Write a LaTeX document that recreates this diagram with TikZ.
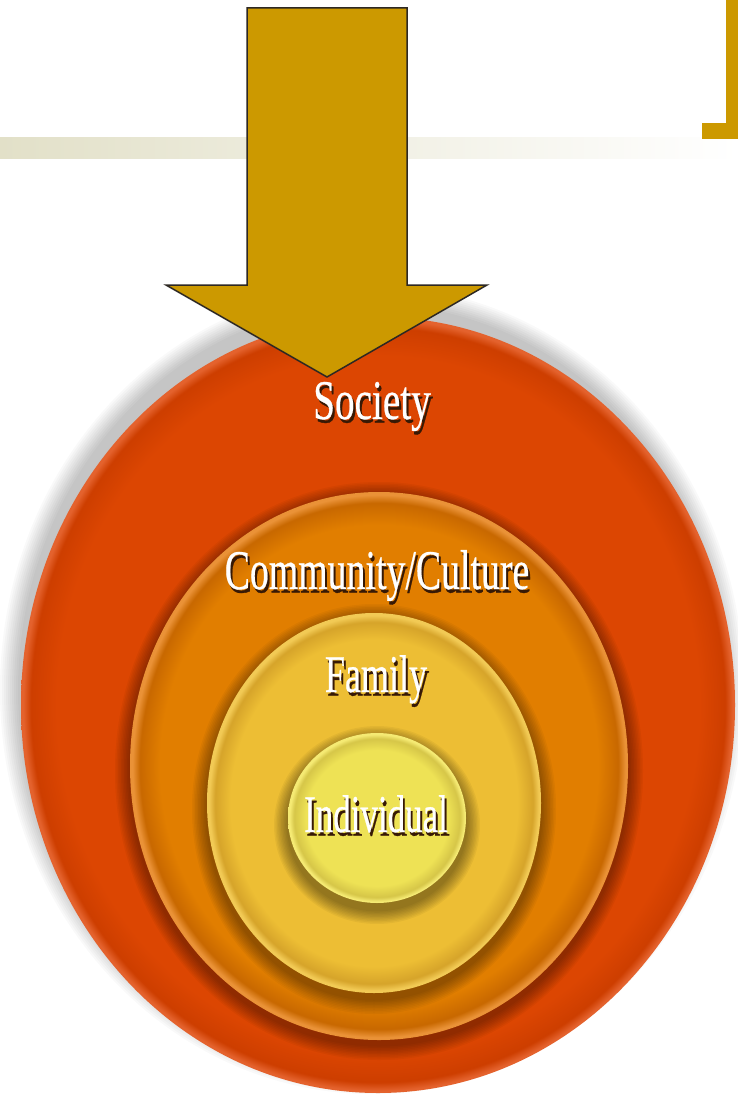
\documentclass[tikz,border=0pt]{standalone}
\usepackage{fontspec}
\usepackage{graphicx}
\setmainfont{Liberation Serif}
\newfontfamily\lblfont[FakeBold=0.6]{Liberation Serif}
\definecolor{gold}{RGB}{204,153,0}
\definecolor{goldline}{RGB}{45,40,35}
\definecolor{barL}{RGB}{226,224,200}
\definecolor{shc}{RGB}{55,25,5}
\definecolor{redb}{RGB}{220,70,2}
\definecolor{redd}{RGB}{205,62,0}
\definecolor{redl}{RGB}{228,98,45}
\definecolor{orb}{RGB}{225,126,0}
\definecolor{ord}{RGB}{200,104,0}
\definecolor{orl}{RGB}{234,146,55}
\definecolor{fab}{RGB}{237,190,52}
\definecolor{fad}{RGB}{214,164,42}
\definecolor{fal}{RGB}{242,202,85}
\definecolor{inb}{RGB}{238,226,85}
\definecolor{ind}{RGB}{214,198,72}
\definecolor{inl}{RGB}{245,234,115}
\pgfdeclareradialshading{redbevel}{\pgfpoint{0bp}{0bp}}{color(0bp)=(redb); color(22.5bp)=(redb); color(24.3bp)=(redd); color(24.85bp)=(redl); color(50bp)=(redl)}
\pgfdeclareradialshading{orbevel}{\pgfpoint{0bp}{0bp}}{color(0bp)=(orb); color(22bp)=(orb); color(24bp)=(ord); color(24.75bp)=(orl); color(50bp)=(orl)}
\pgfdeclareradialshading{fabevel}{\pgfpoint{0bp}{0bp}}{color(0bp)=(fab); color(21.5bp)=(fab); color(23.8bp)=(fad); color(24.7bp)=(fal); color(50bp)=(fal)}
\pgfdeclareradialshading{inbevel}{\pgfpoint{0bp}{0bp}}{color(0bp)=(inb); color(20bp)=(inb); color(23.3bp)=(ind); color(24.6bp)=(inl); color(50bp)=(inl)}
\newcommand\softshadow[7]{%
  \foreach \k in {1,...,10}{\fill[#5,opacity=#6] (#1,#2) ellipse [x radius={#3+#7*\k}, y radius={#4+#7*\k}];}}
\newcommand\shadowed[2]{\scalebox{#1}[1]{\rlap{\kern3pt\raisebox{-3.5pt}{\color{shc}#2}}#2}}
\tikzset{
  lbl/.style={text=white, anchor=base, inner sep=0pt},
  big/.style={font=\lblfont\fontsize{56}{60}\selectfont},
  mid/.style={font=\lblfont\fontsize{53}{58}\selectfont},
  arrowshape/.style={fill=gold, draw=goldline, line width=1.5pt, line join=miter}
}
\begin{document}
\begin{tikzpicture}[x=1pt,y=-1pt]
\useasboundingbox (0,0) rectangle (738,1099);
\fill[white] (0,0) rectangle (738,1099);
% top band
\shade[left color=barL, right color=white] (0,138) rectangle (738,159);
% right bracket
\fill[gold] (726,0) rectangle (738,139);
\fill[gold] (702,123) rectangle (738,139);
% outer ellipse
\softshadow{372}{690}{352}{384}{black}{0.022}{2}
\shade[shading=redbevel] (378,705) ellipse [x radius=357, y radius=388];
% community ellipse
\softshadow{379}{771}{249}{274}{black}{0.04}{1.5}
\shade[shading=orbevel] (379,766) ellipse [x radius=249, y radius=274];
% family ellipse
\softshadow{374}{809}{167}{190}{black}{0.04}{1.5}
\shade[shading=fabevel] (374,803) ellipse [x radius=167, y radius=190];
% individual ellipse
\softshadow{377}{825}{89}{85}{black}{0.045}{1.4}
\shade[shading=inbevel] (377,818) ellipse [x radius=89, y radius=85];
% arrow
\draw[arrowshape] (247,8) -- (407,8) -- (407,285) -- (487,285) -- (327,377) -- (166,285) -- (247,285) -- cycle;
% labels
\node[lbl,big] (society) at (372,419) {\shadowed{0.7}{Society}};
\node[lbl,big] (community) at (377,589) {\shadowed{0.675}{Community/Culture}};
\node[lbl,mid] (family) at (376,692) {\shadowed{0.68}{Family}};
\node[lbl,mid] (individual) at (376,832) {\shadowed{0.66}{Individual}};
\end{tikzpicture}
\end{document}
